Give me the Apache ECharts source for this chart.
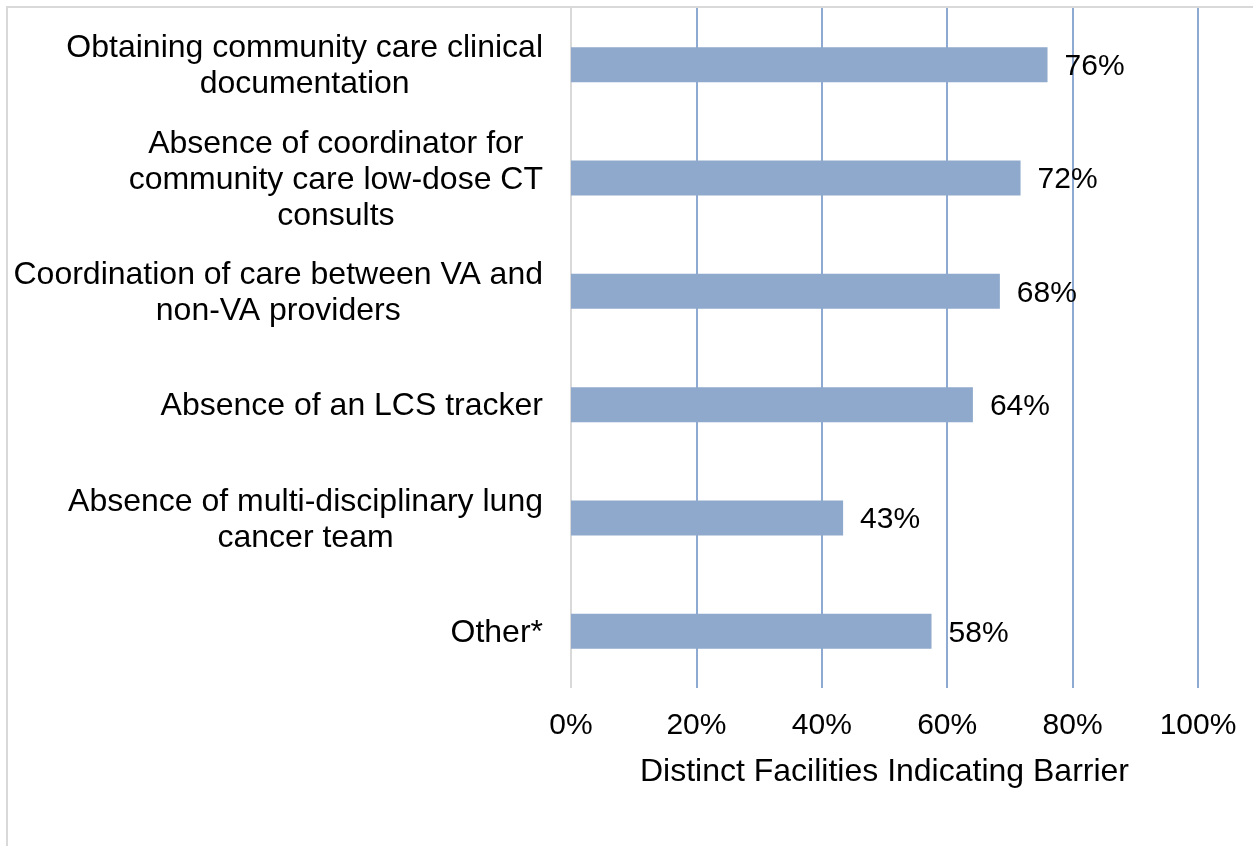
<!DOCTYPE html>
<html>
<head>
<meta charset="utf-8">
<style>
  html, body { margin: 0; padding: 0; background: #ffffff; }
  #chart { width: 1253px; height: 846px; }
</style>
<script src="https://cdn.jsdelivr.net/npm/echarts@6/dist/echarts.min.js"></script>
</head>
<body>
<div id="chart"></div>
<script>
const categories = [
  "Obtaining community care clinical\ndocumentation",
  "Absence of coordinator for\ncommunity care low-dose CT\nconsults",
  "Coordination of care between VA and\nnon-VA providers",
  "Absence of an LCS tracker",
  "Absence of multi-disciplinary lung\ncancer team",
  "Other*"
];
const values = [76.0, 71.7, 68.4, 64.1, 43.4, 57.5];
const xTicks = [0, 20, 40, 60, 80, 100];
const xAxisTitle = "Distinct Facilities Indicating Barrier";

const FONT = '"Liberation Sans", Arial, sans-serif';
const chart = echarts.init(document.getElementById('chart'), null, { renderer: 'canvas' });

chart.setOption({
  backgroundColor: '#ffffff',
  animation: false,
  grid: { left: 571, right: 55, top: 8, bottom: 158, containLabel: false },
  graphic: [
    { type: 'line', shape: { x1: 6, y1: 7, x2: 1253, y2: 7 }, style: { stroke: '#d9d9d9', lineWidth: 2 }, silent: true },
    { type: 'line', shape: { x1: 7, y1: 6, x2: 7, y2: 846 }, style: { stroke: '#d9d9d9', lineWidth: 2 }, silent: true }
  ],
  xAxis: {
    type: 'value',
    min: xTicks[0],
    max: xTicks[xTicks.length - 1],
    interval: 20,
    name: xAxisTitle,
    nameLocation: 'middle',
    nameGap: 68,
    nameTextStyle: { fontSize: 32, lineHeight: 32, color: '#000', fontFamily: FONT },
    axisLine: { show: false },
    axisTick: { show: false },
    axisLabel: {
      margin: 23,
      fontSize: 30,
      lineHeight: 30,
      color: '#000',
      fontFamily: FONT,
      formatter: v => v + '%'
    },
    splitLine: {
      show: true,
      lineStyle: { color: ['#d9d9d9', '#8eaad3', '#8eaad3', '#8eaad3', '#8eaad3', '#8eaad3'], width: 2 }
    }
  },
  yAxis: {
    type: 'category',
    data: categories,
    inverse: true,
    axisLine: { show: false },
    axisTick: { show: false },
    splitLine: { show: false },
    axisLabel: {
      margin: 28,
      color: '#000',
      fontFamily: FONT,
      fontSize: 32,
      lineHeight: 36,
      padding: [4, 0, 0, 0],
      formatter: v => v.split('\n').map(s => '{c|' + s + '}').join('\n'),
      rich: {
        c: { fontSize: 32, lineHeight: 36, align: 'center', color: '#000', fontFamily: FONT }
      }
    }
  },
  series: [{
    type: 'bar',
    data: values,
    barWidth: 35,
    itemStyle: { color: '#8ea9cc' },
    label: {
      show: true,
      position: 'right',
      distance: 17,
      offset: [0, 2],
      fontSize: 30,
      color: '#000',
      fontFamily: FONT,
      formatter: p => Math.round(p.value) + '%'
    }
  }]
});
</script>
</body>
</html>
